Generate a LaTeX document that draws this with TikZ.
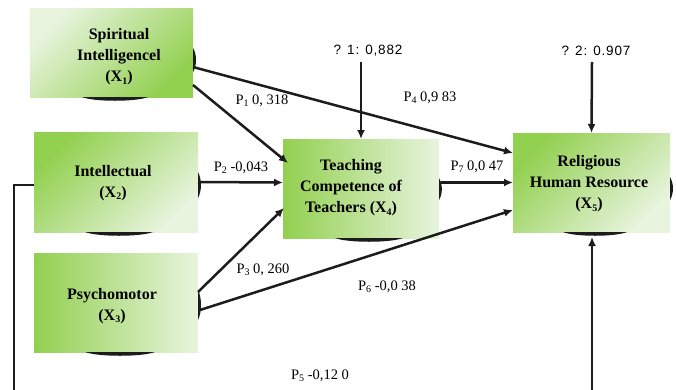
\documentclass[tikz,border=0pt]{standalone}
\usepackage{fontspec}
\setmainfont{Liberation Serif}
\newfontfamily\labsans[LetterSpace=6]{Liberation Sans}
\usetikzlibrary{arrows.meta,calc}
\definecolor{leafgreen}{RGB}{146,208,80}
\definecolor{paleleaf}{RGB}{232,244,222}
\definecolor{inkdark}{RGB}{28,28,28}
\newcommand\lowidx[1]{\raisebox{-0.35ex}{\fontsize{10}{10}\selectfont #1}}

\begin{document}
\begin{tikzpicture}[x=1pt,y=-1pt,
  varbox/.style={inner sep=0pt,outer sep=0pt,draw=none},
  fadeTL/.style={top color=paleleaf,bottom color=leafgreen,shading angle=45},
  fadeBR/.style={top color=leafgreen,bottom color=paleleaf,shading angle=45},
  fadeLR/.style={left color=leafgreen,right color=paleleaf},
  boxtext/.style={align=center,inner sep=0pt,font=\bfseries\fontsize{16}{21}\selectfont},
  arr/.style={line width=2.5pt,draw=inkdark,-{Latex[length=9pt,width=8pt]}},
  lab/.style={inner sep=0pt,font=\fontsize{14.5}{15}\selectfont},
  zlab/.style={inner sep=0pt,font=\labsans\fontsize{13.5}{14}\selectfont},
  tab/.style={fill=inkdark}]

\useasboundingbox (0,0) rectangle (676,389);
\clip (0,0) rectangle (676,389);

% latent variable boxes
\node[varbox,fadeTL,minimum width=163pt,minimum height=89pt]  (x1) at (111.5,52.5) {};
\node[varbox,fadeBR,minimum width=164pt,minimum height=100pt] (x2) at (116,182) {};
\node[varbox,fadeLR,minimum width=164pt,minimum height=99pt]  (x3) at (116,302.5) {};
\node[varbox,fadeLR,minimum width=156pt,minimum height=99pt]  (x4) at (361,188.5) {};
\node[varbox,fadeBR,minimum width=157pt,minimum height=99pt]  (x5) at (591.5,182.5) {};

% box captions
\node[boxtext] (t1) at (119,57)  {Spiritual\\ Intelligencel\\ (X\lowidx{1})};
\node[boxtext] (t2) at (113,183) {Intellectual\\ (X\lowidx{2})};
\node[boxtext] (t3) at (112,306) {Psychomotor\\ (X\lowidx{3})};
\node[boxtext] (t4) at (351,188) {Teaching\\ Competence of\\ Teachers (X\lowidx{4})};
\node[boxtext] (t5) at (589,184) {Religious\\ Human Resource\\ (X\lowidx{5})};

% dark tabs under the boxes
\fill[tab] (82,97)  -- (148,97)  .. controls (136,102) and (94,102) .. cycle;
\fill[tab] (85,232) -- (153,232) .. controls (140,237) and (98,237) .. cycle;
\fill[tab] (85,352) -- (155,352) .. controls (142,357) and (98,357) .. cycle;
\fill[tab] (335,238) -- (403,238) .. controls (390,243) and (348,243) .. cycle;
\fill[tab] (563,232) -- (627,232) .. controls (615,237) and (575,237) .. cycle;

% dark tabs on the right sides
\fill[tab] (193,48)  .. controls (197,54)  and (197,66)  .. (193,72)  -- cycle;
\fill[tab] (198,172) .. controls (202,180) and (202,190) .. (198,198) -- cycle;
\fill[tab] (198,290) .. controls (202,298) and (202,312) .. (198,320) -- cycle;
\fill[tab] (439,178) .. controls (443,185) and (443,193) .. (439,200) -- cycle;
\fill[tab] (670,177) .. controls (674,184) and (674,193) .. (670,200) -- cycle;

% residual terms
\coordinate (z1) at (361,62);
\coordinate (z2) at (592,62);
\node[zlab] (zl1) at (368,51) {? 1: 0,882};
\node[zlab] (zl2) at (596,51) {? 2: 0.907};
\draw[arr] (z1) -- (x4.north);
\draw[arr] (z2) -- (x5.north);

% path coefficients
\draw[arr] ($(x1.north east)+(0,77)$) -- ($(x4.north west)+(5,24)$);
\draw[arr] ($(x1.north east)+(0,59)$) -- ($(x5.north west)+(0,20)$);
\draw[arr] (x2.east) -- ($(x4.north west)+(0,43.5)$);
\draw[arr] ($(x4.north east)+(2,43.5)$) -- ($(x5.north west)+(0,49.5)$);
\draw[arr] ($(x3.north east)+(0,39)$) -- ($(x4.north west)+(1,69)$);
\draw[arr] ($(x3.north east)+(2,57)$) -- ($(x5.north west)+(0,77)$);
\draw[arr] ($(x2.north west)+(0,53)$) -- (14,185) -- (14,420) -| ($(x5.south)+(0.5,5)$);

\node[lab] (p1) at (262,101) {P\lowidx{1} 0, 318};
\node[lab] (p4) at (430,98)  {P\lowidx{4} 0,9 83};
\node[lab] (p2) at (241,168) {P\lowidx{2} -0,043};
\node[lab] (p7) at (477,167) {P\lowidx{7} 0,0 47};
\node[lab] (p3) at (263,270) {P\lowidx{3} 0, 260};
\node[lab] (p6) at (387,287) {P\lowidx{6} -0,0 38};
\node[lab] (p5) at (320,376) {P\lowidx{5} -0,12 0};

\end{tikzpicture}
\end{document}
